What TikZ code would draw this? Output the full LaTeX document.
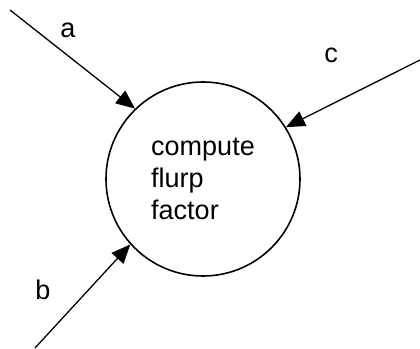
\documentclass[tikz,border=0pt]{standalone}
\usepackage{fontspec}
\setmainfont{Liberation Sans}
\usetikzlibrary{arrows.meta}
\begin{document}
\begin{tikzpicture}[x=1pt,y=1pt,
  flow/.style={line width=1.3pt,-{Triangle[length=19pt,width=16pt]}},
  lbl/.style={font=\fontsize{27}{30}\selectfont,inner sep=0pt},
  proc/.style={circle,draw,line width=1.6pt,minimum size=194pt,inner sep=0pt,
    align=left,font=\fontsize{27}{32}\selectfont}]
\useasboundingbox (0,0) rectangle (420,348);
\node[proc] (p) at (203,169) {compute\\flurp\\factor};
\coordinate (sa) at (10,338);
\coordinate (sb) at (35,0);
\coordinate (sc) at (420,288);
\draw[flow] (sa) -- (p.134);
\draw[flow] (sb) -- (p.222);
\draw[flow] (sc) -- (p.32);
\node[lbl] (la) at (68,318) {a};
\node[lbl] (lb) at (43,58) {b};
\node[lbl] (lc) at (331,293) {c};
\end{tikzpicture}
\end{document}
